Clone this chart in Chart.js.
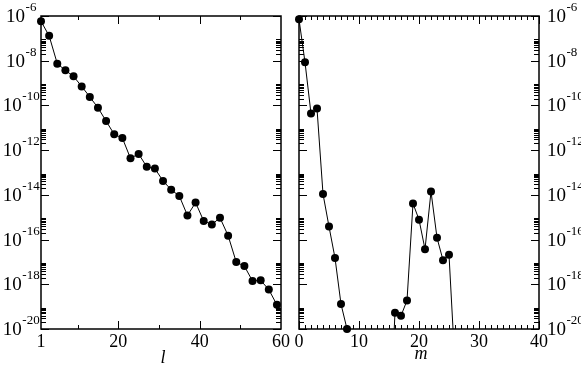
<!DOCTYPE html>
<html>
<head>
<meta charset="utf-8">
<script src="https://cdn.jsdelivr.net/npm/chart.js@4.4.1/dist/chart.umd.min.js"></script>
<style>
  html, body { margin: 0; padding: 0; background: #fff; }
  #wrap { position: relative; width: 581px; height: 366px; }
  #wrap canvas { position: absolute; left: 0; top: 0; }
</style>
</head>
<body>
<div id="wrap">
  <canvas id="panelL" width="581" height="366"></canvas>
  <canvas id="panelM" width="581" height="366"></canvas>
</div>
<script>
// values
var lValues = [1, 3, 5, 7, 9, 11, 13, 15, 17, 19, 21, 23, 25, 27, 29,
               31, 33, 35, 37, 39, 41, 43, 45, 47, 49, 51, 53, 55, 57, 59];
var lAmplitudes = [5.8e-7, 1.3e-7, 7.4e-9, 3.7e-9, 2.0e-9, 7.1e-10, 2.4e-10, 7.9e-11, 2.0e-11, 5.1e-12,
                   3.5e-12, 4.3e-13, 6.8e-13, 1.8e-13, 1.5e-13, 4.2e-14, 1.7e-14, 8.9e-15, 1.2e-15, 4.5e-15,
                   6.8e-16, 4.7e-16, 9.5e-16, 1.5e-16, 9.8e-18, 6.5e-18, 1.4e-18, 1.5e-18, 5.8e-19, 1.2e-19];

var mValues = [0, 1, 2, 3, 4, 5, 6, 7, 8, 9, 10, 11, 12, 13, 14, 15, 16, 17, 18, 19, 20, 21, 22, 23, 24, 25, 26];
var mAmplitudes = [7.1e-7, 8.5e-9, 4.3e-11, 7.2e-11, 1.1e-14, 3.8e-16, 1.5e-17, 1.3e-19, 1.0e-20,
                   2e-25, 1e-25, 1e-25, 1e-25, 1e-25, 1e-25, 1e-25,
                   5.4e-20, 3.9e-20, 1.9e-19, 4.1e-15, 7.8e-16, 3.7e-17, 1.4e-14, 1.2e-16, 1.2e-17, 2.1e-17, 2.3e-22];

// tick labels
var yMajorTicks = [1e-6, 1e-8, 1e-10, 1e-12, 1e-14, 1e-16, 1e-18, 1e-20];
var yTickExponents = ['-6', '-8', '-10', '-12', '-14', '-16', '-18', '-20'];
var lTickLabels = ['1', '20', '40', '60'];
var lLabelTicks = [1, 20, 40, 60];
var lMajorTicks = [20, 40];
var lMinorTicks = [10, 30, 50];
var mTickLabels = ['0', '10', '20', '30', '40'];
var mMajorTicks = [0, 10, 20, 30, 40];

var SERIF = '"Liberation Serif", "DejaVu Serif", serif';

function toPoints(xs, ys) {
  return xs.map(function(x, i) { return { x: x, y: ys[i] }; });
}

// frame, inward ticks on all four sides, and 10^n labels
var panelAxes = {
  id: 'panelAxes',

  beforeDatasetsDraw: function(chart, args, o) {
    var ctx = chart.ctx;
    var a = chart.chartArea;
    var xs = chart.scales.x, ys = chart.scales.y;

    ctx.save();
    ctx.strokeStyle = '#000';
    ctx.lineWidth = 1;

    function seg(x1, y1, x2, y2) {
      ctx.beginPath(); ctx.moveTo(x1, y1); ctx.lineTo(x2, y2); ctx.stroke();
    }
    function hTick(v, len) {
      var y = Math.round(ys.getPixelForValue(v)) + 0.5;
      seg(a.left, y, a.left + len, y);
      seg(a.right, y, a.right - len, y);
    }
    function vTick(v, len) {
      var x = Math.round(xs.getPixelForValue(v)) + 0.5;
      seg(x, a.bottom, x, a.bottom - len);
      seg(x, a.top, x, a.top + len);
    }

    yMajorTicks.forEach(function(v) {
      hTick(v, 8);
      if (v < 1e-6) {
        for (var k = 2; k <= 9; k++) hTick(v * k, 5);
      }
    });
    o.xMajor.forEach(function(v) { vTick(v, 8); });
    o.xMinor.forEach(function(v) { vTick(v, 4); });

    ctx.lineWidth = 1.5;
    ctx.strokeRect(a.left, a.top, a.right - a.left, a.bottom - a.top);
    ctx.restore();
  },

  afterDatasetsDraw: function(chart, args, o) {
    var ctx = chart.ctx;
    var a = chart.chartArea;
    var xs = chart.scales.x, ys = chart.scales.y;

    ctx.save();
    ctx.fillStyle = '#000';
    ctx.textBaseline = 'alphabetic';

    yMajorTicks.forEach(function(v, i) {
      var py = ys.getPixelForValue(v);
      ctx.font = '19px ' + SERIF;
      var w1 = ctx.measureText('10').width;
      ctx.font = '13px ' + SERIF;
      var w2 = ctx.measureText(yTickExponents[i]).width;
      var x0 = o.ySide === 'left' ? 21 - (w1 + w2) / 2 : a.right + 8;
      ctx.textAlign = 'left';
      ctx.font = '19px ' + SERIF;
      ctx.fillText('10', x0, py + 6);
      ctx.font = '13px ' + SERIF;
      ctx.fillText(yTickExponents[i], x0 + w1 + 0.5, py - 5);
    });

    ctx.font = '18px ' + SERIF;
    ctx.textAlign = 'center';
    o.xLabelTicks.forEach(function(v, i) {
      ctx.fillText(o.xLabels[i], xs.getPixelForValue(v), 347);
    });

    ctx.font = 'italic 18px ' + SERIF;
    ctx.fillText(o.title, (a.left + a.right) / 2 + 2, o.titleY);
    ctx.restore();
  }
};

function makePanel(canvasId, xs, ys, xMin, xMax, padL, padR, axisOpts) {
  var pts = toPoints(xs, ys);
  return new Chart(document.getElementById(canvasId), {
    type: 'line',
    data: {
      datasets: [
        { data: pts, borderColor: '#000', borderWidth: 1, pointRadius: 0, tension: 0, clip: 0 },
        { data: pts, showLine: false, pointRadius: 4, pointHoverRadius: 4, pointBorderWidth: 0,
          pointBackgroundColor: '#000', clip: 8 }
      ]
    },
    options: {
      responsive: false,
      animation: false,
      devicePixelRatio: 1,
      events: [],
      layout: { padding: { left: padL, right: padR, top: 16, bottom: 37 } },
      plugins: {
        legend: { display: false },
        tooltip: { enabled: false },
        panelAxes: axisOpts
      },
      scales: {
        x: { type: 'linear', min: xMin, max: xMax, display: false },
        y: { type: 'logarithmic', min: 1e-20, max: 1e-6, display: false }
      }
    },
    plugins: [panelAxes]
  });
}

makePanel('panelL', lValues, lAmplitudes, 1, 60, 41, 300, {
  ySide: 'left', xMajor: lMajorTicks, xMinor: lMinorTicks,
  xLabels: lTickLabels, xLabelTicks: lLabelTicks, title: 'l', titleY: 363
});

var mMinorTicks = [];
for (var t = 1; t < 40; t++) if (t % 10) mMinorTicks.push(t);

makePanel('panelM', mValues, mAmplitudes, 0, 40, 299, 42, {
  ySide: 'right', xMajor: mMajorTicks, xMinor: mMinorTicks,
  xLabels: mTickLabels, xLabelTicks: mMajorTicks, title: 'm', titleY: 359
});
</script>
</body>
</html>
